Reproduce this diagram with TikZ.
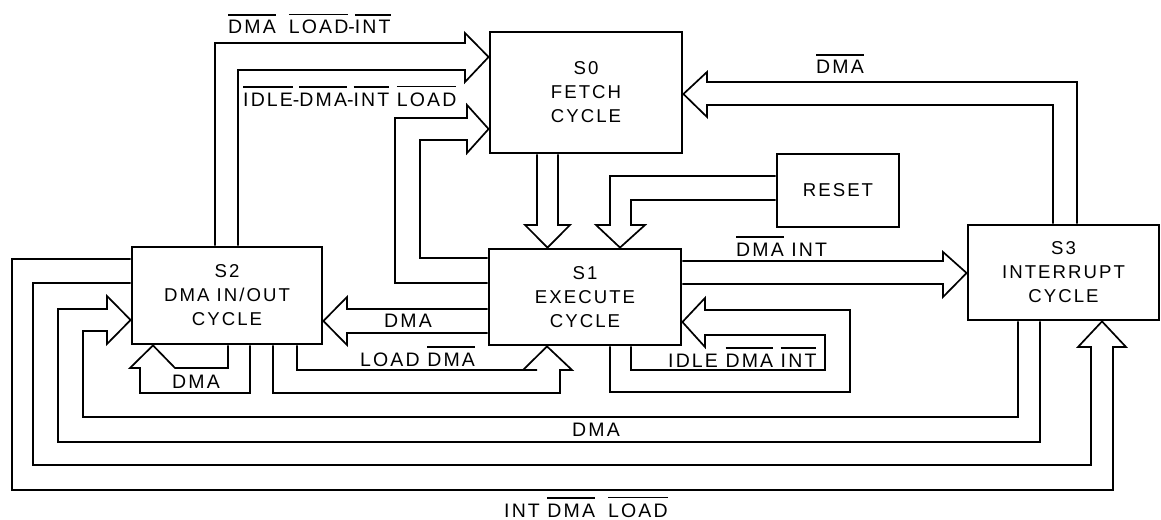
\documentclass[tikz,border=0pt]{standalone}
\usepackage{fontspec}
\setmainfont{Liberation Sans}[LetterSpace=11]
% barred signal name (active-low)
\newcommand\ovl[1]{\vbox{\hrule height 1.6pt\kern 5pt\hbox{#1}}}
\begin{document}
\begin{tikzpicture}[x=1pt,y=-1pt,
  state/.style={draw, line width=2.8pt, inner sep=0pt, align=center,
    font=\fontsize{18.6}{24}\selectfont},
  wire/.style={line width=1.7pt, line join=miter},
  lbl/.style={inner sep=0pt, anchor=base west, font=\fontsize{19.5}{22}\selectfont}]
\useasboundingbox (0,0) rectangle (1161,519);

% states
\node[state, minimum width=192pt, minimum height=121pt] (s0) at (586,92.5) {S0\\FETCH\\CYCLE};
\node[state, minimum width=192pt, minimum height=96pt]  (s1) at (585,297) {S1\\EXECUTE\\CYCLE};
\node[state, minimum width=190pt, minimum height=97pt]  (s2) at (227,295.5) {S2\\DMA IN/OUT\\CYCLE};
\node[state, minimum width=191pt, minimum height=95pt]  (s3) at (1063.5,272.5) {S3\\INTERRUPT\\CYCLE};
\node[state, minimum width=122pt, minimum height=73pt]  (reset) at (838,190.5) {RESET};

% S2 -> S0
\draw[wire] (s2.north -| 215,0) |- (465,43) -- (465,33) -- (s0.west |- 0,57)
  -- (465,82) -- (465,70) -| (s2.north -| 238,0);
% S1 -> S0
\draw[wire] (s1.west |- 0,283) -| (395,118) -- (467,118) -- (467,105) -- (s0.west |- 0,129)
  -- (467,153) -- (467,140) -| (420,258) -- (s1.west |- 0,258);
% S0 -> S1
\draw[wire] (s0.south -| 537,0) -- (537,225) -- (525,225) -- (s1.north -| 547.5,0)
  -- (570,225) -- (558,225) -- (s0.south -| 558,0);
% RESET -> S1
\draw[wire] (reset.west |- 0,176) -| (610,225) -- (596,225) -- (s1.north -| 620,0)
  -- (645,225) -- (631,225) |- (reset.west |- 0,200);
% S3 -> S0
\draw[wire] (s3.north -| 1077,0) |- (707,82) -- (707,72) -- (s0.east |- 0,94)
  -- (707,117) -- (707,105) -| (s3.north -| 1053,0);
% S1 -> S3
\draw[wire] (s1.east |- 0,261) -- (943,261) -- (943,252) -- (s3.west |- 0,273)
  -- (943,297) -- (943,284) -- (s1.east |- 0,284);
% S1 -> S1
\draw[wire] (s1.south -| 610,0) |- (850,392) |- (705,310) -- (705,298) -- (s1.east |- 0,322)
  -- (705,347) -- (705,335) -| (825,370) -| (s1.south -| 631,0);
% S1 -> S2
\draw[wire] (s1.west |- 0,309) -- (347,309) -- (347,297) -- (s2.east |- 0,321)
  -- (347,345) -- (347,333) -- (s1.west |- 0,333);
% S2 -> S1
\draw[wire] (s2.south -| 297,0) |- (537,370) -- (523,370) -- (s1.south -| 547,0)
  -- (572,370) -- (560,370) |- (273,393) -- (s2.south -| 273,0);
% S2 -> S2
\draw[wire] (s2.south -| 228,0) |- (175,368) -- (s2.south -| 153,0) -- (130,368)
  -- (140,368) |- (250,393) -- (s2.south -| 250,0);
% S3 -> S2
\draw[wire] (s3.south -| 1018,0) |- (83,417) |- (107,331) -- (107,344) -- (s2.west |- 0,320)
  -- (107,296) -- (107,309) -| (58,442) -| (s3.south -| 1040,0);
% S2 -> S3
\draw[wire] (s2.west |- 0,283) -| (33,465) -| (1091,347) -- (1078,347) -- (s3.south -| 1102,0)
  -- (1126,347) -- (1113,347) |- (12,490) |- (s2.west |- 0,259);

% transition conditions
\node[lbl] (la) at (228,34)  {\ovl{DMA}\hspace{13pt}\ovl{LOAD}-\ovl{INT}};
\node[lbl] (lb) at (243,106) {\ovl{IDLE}-\ovl{DMA}-\ovl{INT} \ovl{LOAD}};
\node[lbl] (lc) at (816,74)  {\ovl{DMA}};
\node[lbl] (ld) at (736,256) {\ovl{DMA} INT};
\node[lbl] (le) at (384,327) {DMA};
\node[lbl] (lf) at (360,366) {LOAD \ovl{DMA}};
\node[lbl] (lg) at (668,367) {IDLE \ovl{DMA} \ovl{INT}};
\node[lbl] (lh) at (172,388) {DMA};
\node[lbl] (li) at (572,436) {DMA};
\node[lbl] (lj) at (504,517) {INT \ovl{DMA}\hspace{13pt}\ovl{LOAD}};
\end{tikzpicture}
\end{document}
